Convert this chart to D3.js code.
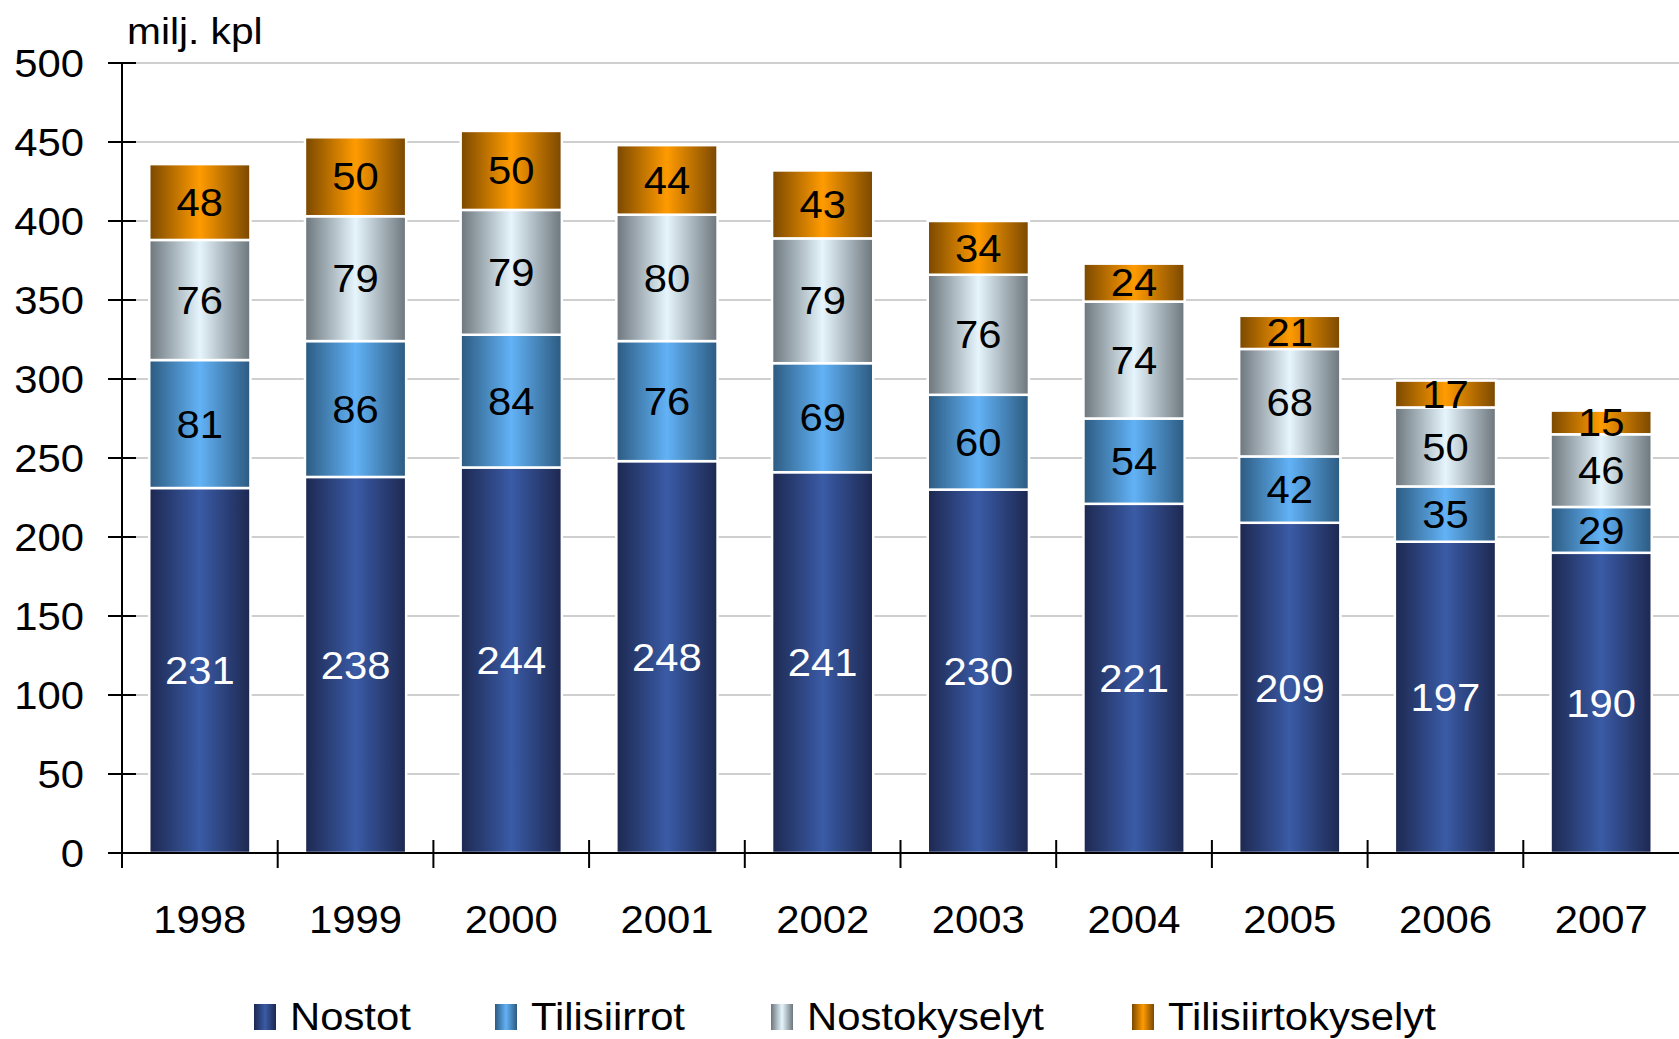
<!DOCTYPE html>
<html><head><meta charset="utf-8">
<script src="https://cdn.jsdelivr.net/npm/d3@7"></script>
<style>html,body{margin:0;padding:0;background:#fff;}svg{display:block;font-family:"Liberation Sans",Arial,sans-serif;}</style>
</head><body>
<script>
const years = ["1998","1999","2000","2001","2002","2003","2004","2005","2006","2007"];
const seriesNames = ["Nostot","Tilisiirrot","Nostokyselyt","Tilisiirtokyselyt"];
const nostot = [231,238,244,248,241,230,221,209,197,190];
const tilisiirrot = [81,86,84,76,69,60,54,42,35,29];
const nostokyselyt = [76,79,79,80,79,76,74,68,50,46];
const tilisiirtokyselyt = [48,50,50,44,43,34,24,21,17,15];
const yTicks = [0,50,100,150,200,250,300,350,400,450,500];
const unitLabel = "milj. kpl";

const seriesValues = [nostot, tilisiirrot, nostokyselyt, tilisiirtokyselyt];
const grad = [
  {edge:"#1d2850", mid:"#3a5ba6"},
  {edge:"#2c5a80", mid:"#62b2f6"},
  {edge:"#6c767c", mid:"#e6f5fd"},
  {edge:"#7a4800", mid:"#ff9b00"}
];
const labelColor = ["#fff","#000","#000","#000"];
const SX = 1.1; // horizontal text stretch

const W = 1679, H = 1039;
const m = {left:122, right:0, top:63, bottom:H-853};
const svg = d3.select("body").append("svg").attr("width",W).attr("height",H);
const defs = svg.append("defs");
grad.forEach((g,i)=>{
  const lg = defs.append("linearGradient").attr("id","g"+i).attr("x1","0").attr("x2","1").attr("y1","0").attr("y2","0");
  lg.append("stop").attr("offset","0%").attr("stop-color",g.edge);
  lg.append("stop").attr("offset","50%").attr("stop-color",g.mid);
  lg.append("stop").attr("offset","100%").attr("stop-color",g.edge);
});

function stretchText(sel, xf, yf){
  sel.attr("x",0).attr("y",0)
     .attr("transform",(d,i)=>`translate(${xf(d,i)},${yf(d,i)}) scale(${SX},1)`);
}

const x = d3.scaleBand().domain(years).range([m.left, W-m.right]).paddingInner(0.35).paddingOuter(0.175);
const y = d3.scaleLinear().domain([0,500]).range([H-m.bottom, m.top]);

// gridlines
svg.append("g").selectAll("line").data(yTicks.filter(d=>d>0)).join("line")
  .attr("x1", m.left+14).attr("x2", W).attr("y1", d=>y(d)).attr("y2", d=>y(d))
  .attr("stroke","#cfcfcf").attr("stroke-width",2);

// stacked data
const table = years.map((yr,i)=>{ const o={year:yr}; seriesNames.forEach((s,j)=>o[s]=seriesValues[j][i]); return o; });
const stacked = d3.stack().keys(seriesNames)(table);

const gBars = svg.append("g");
stacked.forEach((layer,li)=>{
  const g = gBars.append("g");
  g.selectAll("rect").data(layer).join("rect")
    .attr("x", d=>x(d.data.year)).attr("width", x.bandwidth())
    .attr("y", d=>y(d[1])).attr("height", d=>y(d[0])-y(d[1]))
    .attr("fill","url(#g"+li+")").attr("stroke","#fff").attr("stroke-width",2.5);
});
stacked.forEach((layer,li)=>{
  const t = svg.append("g").selectAll("text").data(layer).join("text")
    .attr("dy","0.36em").attr("text-anchor","middle")
    .attr("font-size",38).attr("fill",labelColor[li])
    .text(d=>d[1]-d[0]);
  stretchText(t, d=>x(d.data.year)+x.bandwidth()/2, d=>(y(d[0])+y(d[1]))/2);
});

// y axis
const ya = svg.append("g");
ya.append("line").attr("x1",m.left).attr("x2",m.left).attr("y1",y(500)).attr("y2",y(0)).attr("stroke","#000").attr("stroke-width",2);
ya.selectAll(".tk").data(yTicks).join("line").attr("class","tk")
  .attr("x1",m.left-14).attr("x2",m.left+14).attr("y1",d=>y(d)).attr("y2",d=>y(d))
  .attr("stroke","#000").attr("stroke-width",2);
const yl = ya.selectAll("text").data(yTicks).join("text")
  .attr("text-anchor","end").attr("dy","0.36em").attr("font-size",38).attr("fill","#000").text(d=>d);
stretchText(yl, ()=>84, d=>y(d));

// x axis
const xa = svg.append("g").attr("transform",`translate(0,${y(0)})`);
xa.append("line").attr("x1",m.left-14).attr("x2",W).attr("stroke","#000").attr("stroke-width",2);
const step = x.step();
xa.selectAll(".bt").data(d3.range(years.length)).join("line").attr("class","bt")
  .attr("x1",i=>m.left+i*step).attr("x2",i=>m.left+i*step).attr("y1",-13).attr("y2",15)
  .attr("stroke","#000").attr("stroke-width",2);
const xl = xa.selectAll("text").data(years).join("text")
  .attr("text-anchor","middle").attr("font-size",38).attr("fill","#000").text(d=>d);
stretchText(xl, d=>x(d)+x.bandwidth()/2, ()=>80);

// unit label
const ul = svg.append("text").datum(unitLabel).attr("font-size",37).attr("fill","#000").text(unitLabel);
stretchText(ul, ()=>127, ()=>44);

// legend
const legX = [254, 495, 771, 1132];
const leg = svg.append("g");
seriesNames.forEach((s,i)=>{
  leg.append("rect").attr("x",legX[i]).attr("y",1004).attr("width",22).attr("height",26).attr("fill","url(#g"+i+")");
  const lt = leg.append("text").datum(s).attr("font-size",38).attr("fill","#000").text(s);
  stretchText(lt, ()=>legX[i]+36, ()=>1030);
});
</script>
</body></html>
